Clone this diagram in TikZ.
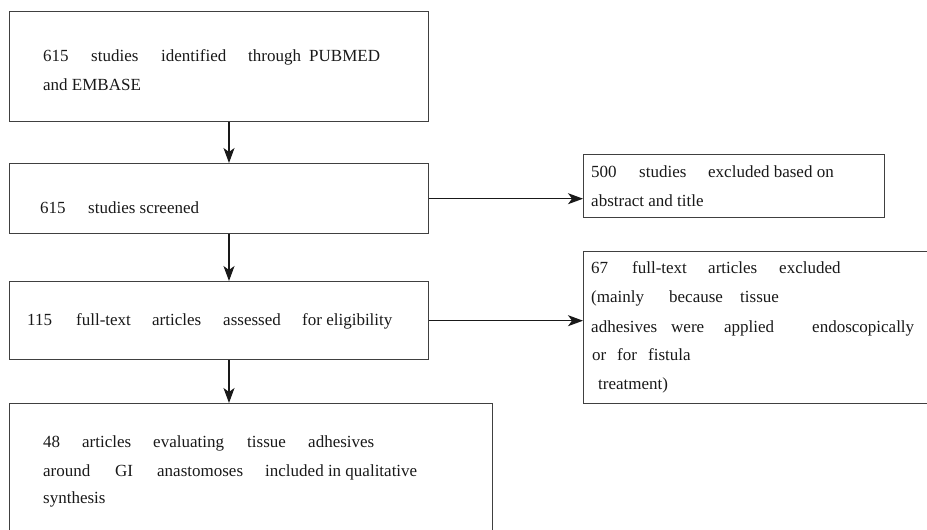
\documentclass[tikz,border=0pt]{standalone}
\usepackage{fontspec}
\setmainfont{Liberation Serif}
\usetikzlibrary{arrows.meta}
\newcommand{\wordbox}[2]{\makebox[#1pt][l]{#2}}
\tikzset{
  box/.style={draw=black!75, line width=1.4pt, inner sep=0pt, anchor=north west},
  txt/.style={anchor=base west, inner sep=0pt, text=black!90, font=\fontsize{17pt}{20pt}\selectfont},
  flow/.style={draw=black!90, line width=1.2pt, -{Stealth[length=15pt,width=11pt,inset=4pt]}}
}

\begin{document}
\begin{tikzpicture}[x=1pt,y=-1pt]
  \useasboundingbox (0,0) rectangle (927,530);

  % main column
  \node[box, minimum width=419pt, minimum height=110pt] (ident) at (9,11) {};
  \node[box, minimum width=419pt, minimum height=70pt] (screen) at (9,163) {};
  \node[box, minimum width=419pt, minimum height=78pt] (assess) at (9,281) {};
  \node[box, minimum width=483pt, minimum height=140pt] (incl) at (9,403) {};

  % exclusions on the right
  \node[box, minimum width=301pt, minimum height=63pt] (excla) at (583,154) {};
  \node[box, minimum width=360pt, minimum height=152pt] (exclb) at (583,251) {};

  % texts
  \node[txt] (identa) at (43,61) {\wordbox{48}{615}\wordbox{70}{studies}\wordbox{87}{identified}\wordbox{61}{through}PUBMED};
  \node[txt] (identb) at (43,90) {and EMBASE};
  \node[txt] (screena) at (40,213) {\wordbox{48}{615}studies screened};
  \node[txt] (assessa) at (27,325) {\wordbox{49}{115}\wordbox{76}{full-text}\wordbox{71}{articles}\wordbox{79}{assessed}for eligibility};
  \node[txt] (incla) at (43,447) {\wordbox{39}{48}\wordbox{71}{articles}\wordbox{94}{evaluating}\wordbox{61}{tissue}adhesives};
  \node[txt] (inclb) at (43,476) {\wordbox{72}{around}\wordbox{42}{GI}\wordbox{108}{anastomoses}included in qualitative};
  \node[txt] (inclc) at (43,503) {synthesis};

  \node[txt] (excla1) at (591,177) {\wordbox{48}{500}\wordbox{69}{studies}excluded based on};
  \node[txt] (excla2) at (591,206) {abstract and title};
  \node[txt] (exclb1) at (591,273) {\wordbox{41}{67}\wordbox{76}{full-text}\wordbox{71}{articles}excluded};
  \node[txt] (exclb2) at (591,302) {\wordbox{78}{(mainly}\wordbox{71}{because}tissue};
  \node[txt] (exclb3) at (591,332) {\wordbox{80}{adhesives}\wordbox{53}{were}\wordbox{88}{applied}endoscopically};
  \node[txt] (exclb4) at (592,360) {\wordbox{25}{or}\wordbox{31}{for}fistula};
  \node[txt] (exclb5) at (598,389) {treatment)};

  % arrows
  \coordinate (axis) at (229,0);
  \draw[flow] (ident.south -| axis) -- (screen.north -| axis);
  \draw[flow] (screen.south -| axis) -- (assess.north -| axis);
  \draw[flow] (assess.south -| axis) -- (incl.north -| axis);
  \draw[flow] (screen.east) -- (screen.east -| excla.west);
  \draw[flow] (assess.east) -- (assess.east -| exclb.west);

\end{tikzpicture}
\end{document}
